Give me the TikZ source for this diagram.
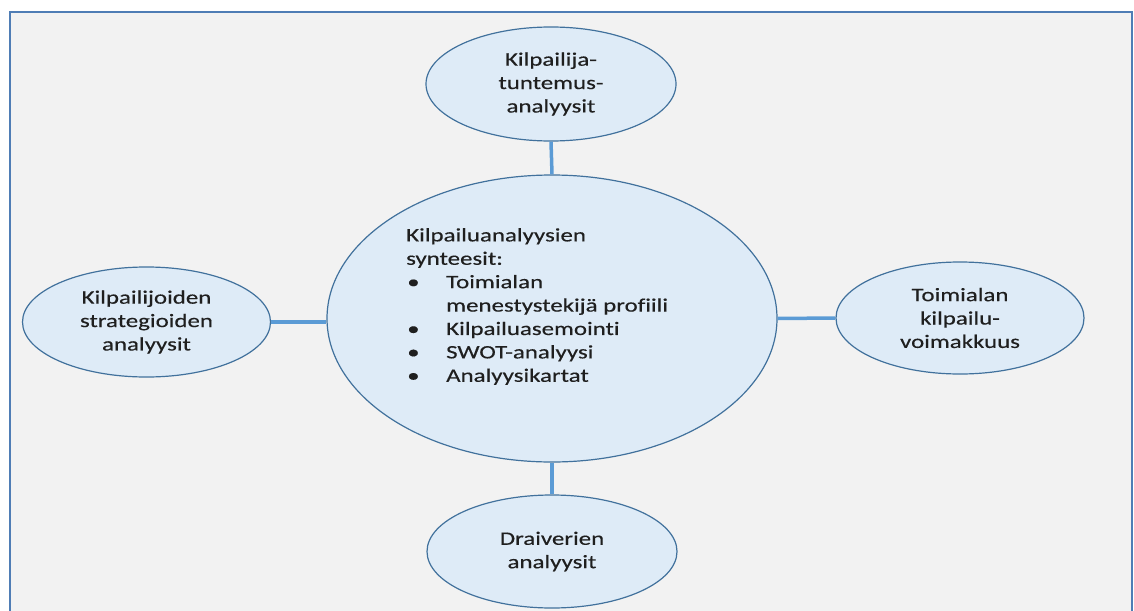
\documentclass[tikz,border=0pt]{standalone}
\usepackage{fontspec}
\setmainfont{Carlito}[FakeStretch=1.31, FakeBold=0.35, Ligatures=NoCommon]
\usetikzlibrary{shapes.geometric}
\definecolor{bgfill}{HTML}{F2F2F2}
\definecolor{framecol}{HTML}{4F7DB5}
\definecolor{bubfill}{HTML}{DEEBF7}
\definecolor{bubline}{HTML}{41719C}
\definecolor{linkcol}{HTML}{5B9BD5}
\definecolor{txtcol}{HTML}{1F1F1F}
% bullet followed by a fixed indent
\newcommand\bulitem{\makebox[40pt][l]{\hspace{1pt}•}}
\begin{document}
\begin{tikzpicture}[x=1pt,y=-1pt,
  bodyfont/.style={font=\fontsize{19}{23.4}\selectfont, text=txtcol},
  bubble/.style={ellipse, draw=bubline, fill=bubfill, line width=1.2pt,
    inner sep=0pt, align=center, bodyfont},
  link/.style={draw=linkcol, line width=3.5pt}]
\useasboundingbox (0,0) rectangle (1134,610);
\fill[white] (0,0) rectangle (1134,610);
\begin{scope}
  \clip (0,0) rectangle (1134,610);
  \filldraw[fill=bgfill, draw=framecol, line width=2pt] (10,12) rectangle (1132,640);
\end{scope}

% central synthesis bubble and its text
\node[bubble, minimum width=450pt, minimum height=287pt] (syn) at (552,318.5) {};
\node[anchor=north west, inner sep=0pt, align=left, bodyfont] (syntxt) at (406,228)
  {Kilpailuanalyysien\\
   synteesit:\\
   \bulitem Toimialan\\
   \hspace*{40pt}menestystekijä profiili\\
   \bulitem Kilpailuasemointi\\
   \bulitem SWOT-analyysi\\
   \bulitem Analyysikartat};

% surrounding analysis bubbles
\node[bubble, minimum width=250pt, minimum height=114pt] (top) at (551,84)
  {Kilpailija-\\tuntemus-\\analyysit};
\node[bubble, minimum width=248pt, minimum height=112pt] (right) at (960,318)
  {Toimialan\\kilpailu-\\voimakkuus};
\node[bubble, minimum width=248pt, minimum height=110pt] (left) at (146.5,322)
  {Kilpailijoiden\\strategioiden\\analyysit};
\node[bubble, minimum width=250pt, minimum height=113pt] (bottom) at (552,551.5)
  {Draiverien\\analyysit};

% spokes
\draw[link] (top.south) -- (syn.north);
\draw[link] (syn.south) -- (bottom.north);
\draw[link] (left.east) -- (left.east -| syn.west);
\draw[link] (syn.east) -- (right.west);
\end{tikzpicture}
\end{document}
